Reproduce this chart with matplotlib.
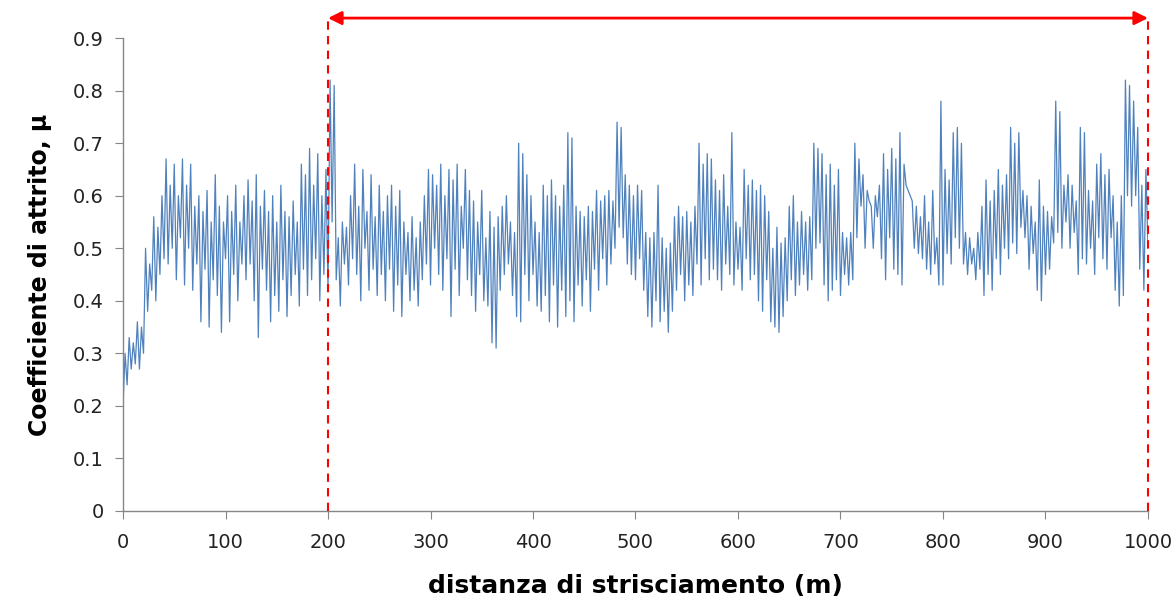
import numpy as np
import matplotlib
matplotlib.use("Agg")
import matplotlib.pyplot as plt

# distanza di strisciamento (m), un punto ogni 2 m
distanza = np.arange(0, 1001, 2)

# coefficiente di attrito (righe da 20 m)
mu = [
    0.20, 0.30, 0.24, 0.33, 0.27, 0.32, 0.28, 0.36, 0.27, 0.35,
    0.30, 0.50, 0.38, 0.47, 0.42, 0.56, 0.40, 0.54, 0.45, 0.60,
    0.48, 0.67, 0.47, 0.62, 0.50, 0.66, 0.44, 0.60, 0.52, 0.67,
    0.43, 0.62, 0.50, 0.66, 0.42, 0.58, 0.47, 0.60, 0.36, 0.57,
    0.46, 0.61, 0.35, 0.55, 0.44, 0.64, 0.41, 0.58, 0.34, 0.55,
    0.48, 0.60, 0.36, 0.57, 0.45, 0.62, 0.40, 0.55, 0.47, 0.60,
    0.44, 0.63, 0.47, 0.59, 0.40, 0.64, 0.33, 0.58, 0.46, 0.61,
    0.42, 0.57, 0.36, 0.60, 0.41, 0.55, 0.38, 0.62, 0.44, 0.57,
    0.37, 0.56, 0.41, 0.59, 0.45, 0.55, 0.39, 0.66, 0.46, 0.64,
    0.41, 0.69, 0.44, 0.62, 0.48, 0.68, 0.40, 0.60, 0.45, 0.65,
    0.42, 0.82, 0.55, 0.81, 0.44, 0.52, 0.39, 0.55, 0.47, 0.54,
    0.43, 0.60, 0.48, 0.66, 0.45, 0.58, 0.40, 0.65, 0.50, 0.57,
    0.42, 0.64, 0.46, 0.56, 0.41, 0.62, 0.45, 0.57, 0.40, 0.60,
    0.46, 0.62, 0.38, 0.58, 0.43, 0.61, 0.37, 0.55, 0.45, 0.53,
    0.40, 0.56, 0.42, 0.52, 0.39, 0.55, 0.44, 0.60, 0.47, 0.65,
    0.43, 0.64, 0.50, 0.62, 0.45, 0.66, 0.42, 0.60, 0.48, 0.65,
    0.37, 0.63, 0.46, 0.66, 0.41, 0.58, 0.50, 0.65, 0.44, 0.61,
    0.41, 0.59, 0.38, 0.55, 0.45, 0.61, 0.40, 0.52, 0.39, 0.57,
    0.32, 0.54, 0.31, 0.56, 0.42, 0.58, 0.45, 0.60, 0.47, 0.55,
    0.41, 0.53, 0.37, 0.70, 0.36, 0.68, 0.45, 0.64, 0.40, 0.60,
    0.45, 0.55, 0.39, 0.53, 0.38, 0.62, 0.41, 0.60, 0.36, 0.63,
    0.43, 0.60, 0.35, 0.58, 0.42, 0.62, 0.37, 0.72, 0.40, 0.71,
    0.36, 0.58, 0.43, 0.57, 0.39, 0.56, 0.44, 0.58, 0.38, 0.57,
    0.46, 0.61, 0.42, 0.59, 0.48, 0.60, 0.43, 0.61, 0.47, 0.59,
    0.50, 0.74, 0.54, 0.73, 0.52, 0.64, 0.47, 0.62, 0.45, 0.60,
    0.44, 0.62, 0.48, 0.61, 0.42, 0.53, 0.37, 0.52, 0.35, 0.53,
    0.40, 0.62, 0.36, 0.52, 0.38, 0.50, 0.34, 0.51, 0.38, 0.56,
    0.42, 0.58, 0.45, 0.56, 0.40, 0.57, 0.43, 0.55, 0.41, 0.58,
    0.47, 0.70, 0.43, 0.66, 0.48, 0.68, 0.44, 0.67, 0.46, 0.63,
    0.44, 0.61, 0.42, 0.64, 0.47, 0.58, 0.45, 0.72, 0.43, 0.55,
    0.46, 0.54, 0.42, 0.65, 0.48, 0.62, 0.44, 0.63, 0.45, 0.61,
    0.40, 0.62, 0.38, 0.60, 0.44, 0.57, 0.36, 0.50, 0.35, 0.54,
    0.34, 0.51, 0.37, 0.52, 0.40, 0.58, 0.44, 0.60, 0.41, 0.55,
    0.43, 0.57, 0.45, 0.55, 0.42, 0.56, 0.44, 0.70, 0.50, 0.69,
    0.51, 0.68, 0.43, 0.64, 0.40, 0.66, 0.42, 0.62, 0.44, 0.65,
    0.41, 0.53, 0.45, 0.52, 0.43, 0.53, 0.44, 0.70, 0.52, 0.67,
    0.58, 0.64, 0.50, 0.61, 0.59, 0.58, 0.50, 0.60, 0.56, 0.62,
    0.48, 0.68, 0.44, 0.65, 0.52, 0.69, 0.46, 0.67, 0.45, 0.72,
    0.43, 0.66, 0.62, 0.61, 0.60, 0.59, 0.50, 0.58, 0.49, 0.56,
    0.48, 0.60, 0.46, 0.55, 0.45, 0.61, 0.47, 0.52, 0.43, 0.78,
    0.43, 0.65, 0.49, 0.63, 0.47, 0.72, 0.52, 0.73, 0.50, 0.70,
    0.47, 0.53, 0.45, 0.52, 0.47, 0.50, 0.44, 0.53, 0.46, 0.58,
    0.41, 0.63, 0.45, 0.59, 0.42, 0.61, 0.48, 0.65, 0.45, 0.62,
    0.50, 0.64, 0.48, 0.73, 0.51, 0.70, 0.49, 0.72, 0.54, 0.61,
    0.52, 0.60, 0.46, 0.58, 0.49, 0.55, 0.42, 0.63, 0.40, 0.58,
    0.45, 0.57, 0.46, 0.56, 0.51, 0.78, 0.53, 0.76, 0.50, 0.62,
    0.55, 0.64, 0.50, 0.62, 0.53, 0.59, 0.45, 0.73, 0.48, 0.72,
    0.47, 0.61, 0.50, 0.59, 0.45, 0.66, 0.52, 0.68, 0.48, 0.64,
    0.46, 0.65, 0.52, 0.60, 0.42, 0.55, 0.39, 0.60, 0.41, 0.82,
    0.60, 0.81, 0.58, 0.78, 0.60, 0.73, 0.46, 0.62, 0.42, 0.65,
    0.50,
]

x_ticks = list(range(0, 1001, 100))
y_ticks = [0, 0.1, 0.2, 0.3, 0.4, 0.5, 0.6, 0.7, 0.8, 0.9]
y_labels = ["0", "0.1", "0.2", "0.3", "0.4", "0.5", "0.6", "0.7", "0.8", "0.9"]
regime = [200, 1000]  # intervallo segnato in rosso

fig = plt.figure(figsize=(11.75, 6.04), dpi=100)
ax = fig.add_axes([0.1047, 0.154, 0.8723, 0.783])

ax.plot(distanza, mu, color="#4F81BD", lw=0.9)

ax.set_xlim(0, 1000)
ax.set_ylim(0, 0.9)
ax.set_xticks(x_ticks)
ax.set_yticks(y_ticks)
ax.set_yticklabels(y_labels)
ax.tick_params(axis="both", direction="out", length=6, color="#868686",
               labelsize=14, labelcolor="#222222")
ax.tick_params(axis="x", pad=10)
ax.tick_params(axis="y", pad=8)

for side in ["top", "right"]:
    ax.spines[side].set_visible(False)
for side in ["left", "bottom"]:
    ax.spines[side].set_color("#868686")
    ax.spines[side].set_linewidth(1.0)

ax.set_xlabel("distanza di strisciamento (m)", fontsize=18, fontweight="bold",
              labelpad=16)
ax.set_ylabel("Coefficiente di attrito, μ", fontsize=17, fontweight="bold",
              labelpad=15)

# linee tratteggiate rosse e freccia doppia
top = 0.938
for xv in regime:
    ax.plot([xv, xv], [0, top], color="red", lw=1.5, ls=(0, (4, 3)),
            clip_on=False, zorder=3)
ax.annotate("", xy=(regime[1], top), xytext=(regime[0], top),
            xycoords="data", textcoords="data", annotation_clip=False,
            arrowprops=dict(arrowstyle="<|-|>", color="red", lw=2,
                            mutation_scale=20, shrinkA=0, shrinkB=0))

fig.savefig("out.png", dpi=100)
